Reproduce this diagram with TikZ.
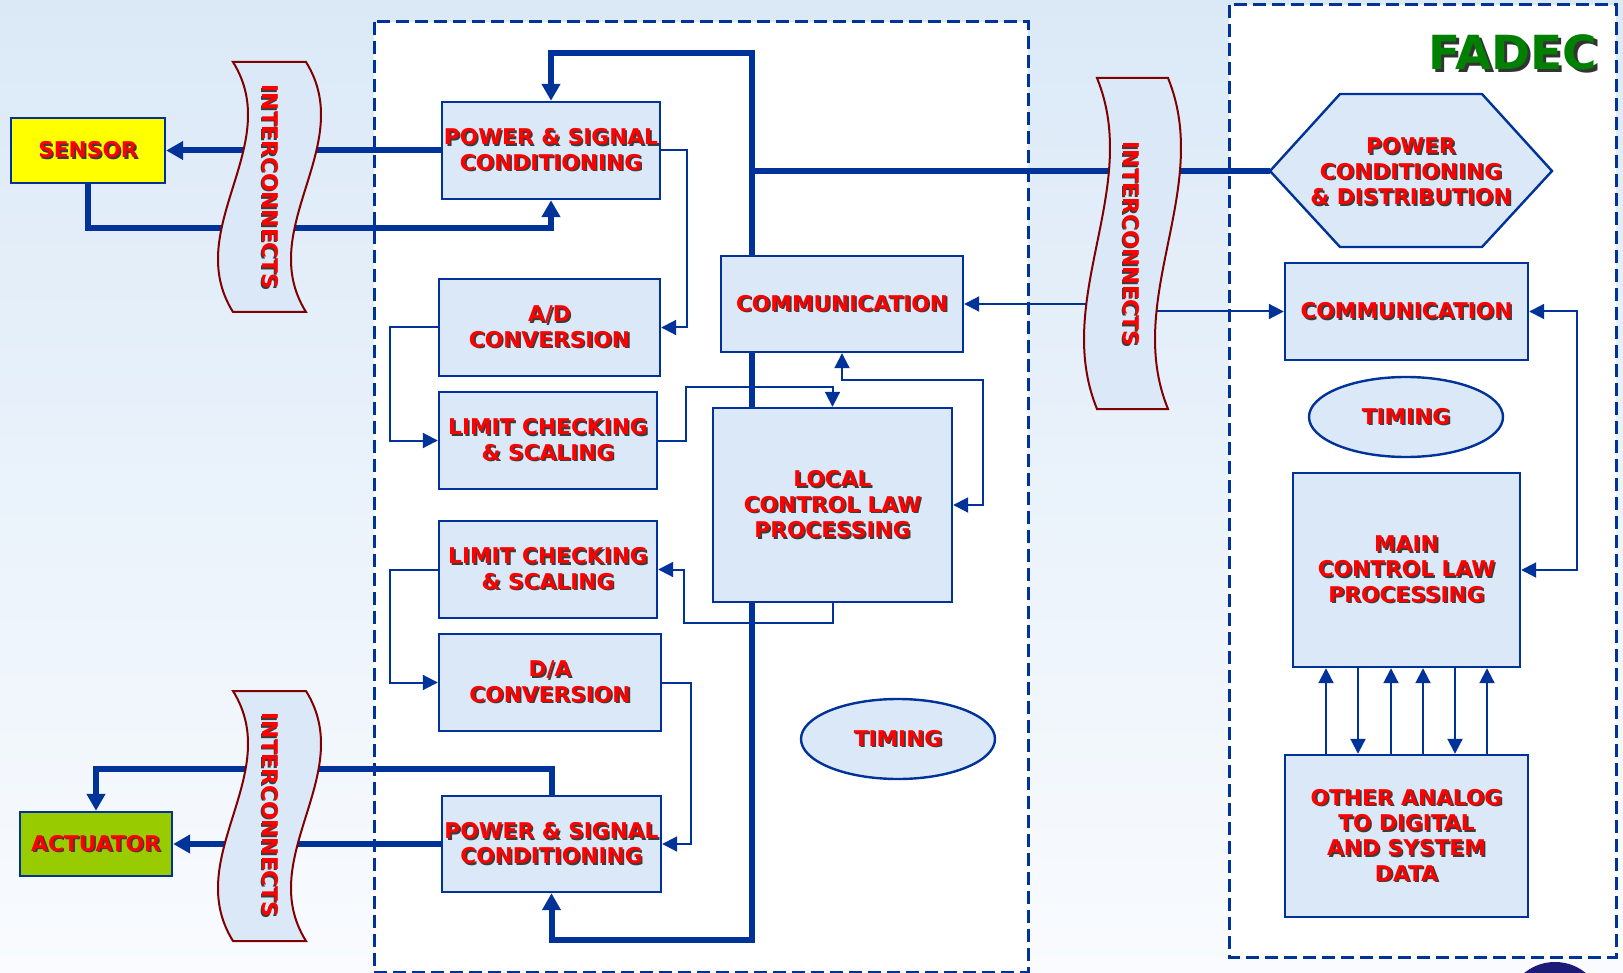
\documentclass[tikz,border=0pt]{standalone}
\usepackage{fontspec}
\setmainfont{DejaVu Sans}
\usetikzlibrary{arrows.meta,shapes.geometric}

\definecolor{linec}{RGB}{0,51,153}
\definecolor{boxfill}{RGB}{219,232,247}
\definecolor{txtred}{RGB}{255,0,0}
\definecolor{ribbonc}{RGB}{128,0,0}
\definecolor{bgtop}{RGB}{219,233,247}
\definecolor{bgbot}{RGB}{249,251,254}
\definecolor{fadecg}{RGB}{0,128,0}
\definecolor{shadowc}{RGB}{60,60,60}
\definecolor{sensorc}{RGB}{255,255,0}
\definecolor{actc}{RGB}{153,204,0}
\definecolor{blobc}{RGB}{28,28,120}

% text with a small drop shadow
\newcommand\shd[1]{\leavevmode\rlap{\kern0.8pt\raisebox{-0.8pt}{\textcolor{shadowc}{#1}}}#1}
\newcommand\shdbig[1]{\leavevmode\rlap{\kern1.6pt\raisebox{-1.6pt}{\textcolor{black!80}{#1}}}#1}

\pgfdeclarelayer{bg}
\pgfdeclarelayer{wires}
\pgfsetlayers{bg,wires,main}

\tikzset{
  lbl/.style={font=\fontsize{10.85}{12.7}\selectfont\bfseries, text=txtred, align=center, inner sep=0pt},
  blk/.style={lbl, draw=linec, line width=1.2pt, fill=boxfill},
  oval/.style={blk, ellipse, minimum width=97pt, minimum height=40pt},
  hexs/.style={draw=linec, line width=1.2pt, fill=boxfill, line join=miter},
  ribbon/.style={draw=ribbonc, line width=1pt, fill=boxfill},
  rtxt/.style={lbl, rotate=-90},
  panel/.style={draw=linec, line width=1.5pt, dash pattern=on 6.5pt off 3pt, fill=white},
  bus/.style={draw=linec, line width=3pt},
  wire/.style={draw=linec, line width=1pt},
  arr/.style={-{Triangle[length=7.5pt,width=7.5pt]}},
  darr/.style={{Triangle[length=7.5pt,width=7.5pt]}-{Triangle[length=7.5pt,width=7.5pt]}},
  barr/.style={-{Triangle[length=8.5pt,width=9pt]}},
  bdarr/.style={{Triangle[length=8.5pt,width=9pt]}-{Triangle[length=8.5pt,width=9pt]}},
}

\begin{document}
\begin{tikzpicture}[x=0.5pt,y=-0.5pt]
\useasboundingbox (0,0) rectangle (1623,973);

% backdrop and the two dashed panels
\begin{pgfonlayer}{bg}
  \shade[top color=bgtop, bottom color=bgbot] (0,0) rectangle (1623,973);
  \draw[panel] (374,22) rectangle (1028,972);
  \draw[panel] (1229,5) rectangle (1616,957);
  \begin{scope}
    \clip (0,0) rectangle (1623,973);
    \fill[blobc] (1555,1005) ellipse [x radius=23pt, y radius=21.5pt];
  \end{scope}
\end{pgfonlayer}

% title
\node[font=\fontsize{23.5}{28}\selectfont\bfseries, text=fadecg, inner sep=0pt] (title) at (1513,54) {\shdbig{FADEC}};

% external devices
\node[blk, fill=sensorc, minimum width=77pt, minimum height=32.5pt] (sensor) at (88,150.5) {\shd{SENSOR}};
\node[blk, fill=actc, minimum width=76pt, minimum height=32pt] (act) at (96,844) {\shd{ACTUATOR}};

% local unit
\node[blk, minimum width=109pt, minimum height=48.5pt] (psc1) at (551,150.5) {\shd{POWER \& SIGNAL}\\\shd{CONDITIONING}};
\node[blk, minimum width=110.5pt, minimum height=48.5pt] (ad) at (549.5,327.5) {\shd{A/D}\\\shd{CONVERSION}};
\node[blk, minimum width=109pt, minimum height=48.5pt] (lc1) at (548,440.5) {\shd{LIMIT CHECKING}\\\shd{\& SCALING}};
\node[blk, minimum width=109pt, minimum height=48.5pt] (lc2) at (548,569.5) {\shd{LIMIT CHECKING}\\\shd{\& SCALING}};
\node[blk, minimum width=111pt, minimum height=48.5pt] (da) at (550,682.5) {\shd{D/A}\\\shd{CONVERSION}};
\node[blk, minimum width=109.5pt, minimum height=48pt] (psc2) at (551.5,844) {\shd{POWER \& SIGNAL}\\\shd{CONDITIONING}};
\node[blk, minimum width=121pt, minimum height=48pt] (comm) at (842,304) {\shd{COMMUNICATION}};
\node[blk, minimum width=119.5pt, minimum height=97pt] (local) at (832.5,505) {\shd{LOCAL}\\\shd{CONTROL LAW}\\\shd{PROCESSING}};
\node[oval] (tim1) at (898,739) {\shd{TIMING}};

% FADEC unit
\draw[hexs] (1270,171) -- (1340,94) -- (1482,94) -- (1552,171) -- (1482,247) -- (1340,247) -- cycle;
\coordinate (hexW) at (1270,171);
\node[lbl] (hex) at (1411,172) {\shd{POWER}\\\shd{CONDITIONING}\\\shd{\& DISTRIBUTION}};
\node[blk, minimum width=121.5pt, minimum height=48.5pt] (commR) at (1406.5,311.5) {\shd{COMMUNICATION}};
\node[oval] (tim2) at (1406,417) {\shd{TIMING}};
\node[blk, minimum width=113.5pt, minimum height=97pt] (main) at (1406.5,570) {\shd{MAIN}\\\shd{CONTROL LAW}\\\shd{PROCESSING}};
\node[blk, minimum width=121.5pt, minimum height=81pt] (other) at (1406.5,836) {\shd{OTHER ANALOG}\\\shd{TO DIGITAL}\\\shd{AND SYSTEM}\\\shd{DATA}};

% interconnect ribbons
\draw[ribbon] (233,62) -- (306,62) .. controls (358,145.3) and (254,228.7) .. (306,312) -- (233,312) .. controls (181,228.7) and (285,145.3) .. (233,62) -- cycle;
\node[rtxt] (ic1) at (270,187) {\shd{INTERCONNECTS}};
\draw[ribbon] (233,691) -- (306,691) .. controls (358,774.3) and (254,857.7) .. (306,941) -- (233,941) .. controls (181,857.7) and (285,774.3) .. (233,691) -- cycle;
\node[rtxt] (ic2) at (270,815) {\shd{INTERCONNECTS}};
\draw[ribbon] (1097,78) -- (1168,78) .. controls (1213,188.3) and (1123,298.7) .. (1168,409) -- (1097,409) .. controls (1052,298.7) and (1142,188.3) .. (1097,78) -- cycle;
\node[rtxt] (ic3) at (1131,244) {\shd{INTERCONNECTS}};

% connector corners
\coordinate (sJ) at (551,228);
\coordinate (aJ) at (96,769);
\coordinate (busT) at (752,53);
\coordinate (busB) at (752,940);
\coordinate (busJ) at (752,171);
\coordinate (cJ) at (832.5,387);
\coordinate (dJ) at (983,380);
\coordinate (eJ) at (684,623);
\coordinate (icA) at (1100,304);
\coordinate (icB) at (1150,311.5);

\begin{pgfonlayer}{wires}
  % power and signal paths
  \draw[bus,barr] (psc1.west) -- (sensor.east);
  \draw[bus,barr] (sensor.south) |- (sJ) -- (psc1.south);
  \draw[bus,bdarr] (psc1.north) |- (busT) -- (busB) -| (psc2.south);
  \draw[bus] (hexW) -- (busJ);
  \draw[bus,barr] (psc2.west) -- (act.east);
  \draw[bus,barr] (psc2.north) |- (aJ) -- (act.north);

  % local data flow
  \draw[wire,arr] (psc1.east) -- ++(26,0) |- (ad.east);
  \draw[wire,arr] (ad.west) -- ++(-48,0) |- (lc1.west);
  \draw[wire,arr] (lc1.east) -- ++(28,0) |- (cJ) -- (local.north);
  \draw[wire,darr] (comm.south) |- (dJ) |- (local.east);
  \draw[wire,arr] (local.south) |- (eJ) |- (lc2.east);
  \draw[wire,arr] (lc2.west) -- ++(-48,0) |- (da.west);
  \draw[wire,arr] (da.east) -- ++(29,0) |- (psc2.east);

  % link between the units
  \draw[wire,arr] (icA) -- (comm.east);
  \draw[wire,arr] (icB) -- (commR.west);
  \draw[wire,darr] (commR.east) -- ++(48,0) |- (main.east);

  % main processor data lines
  \foreach \x in {1326,1391,1423,1487}{
    \coordinate (k) at (\x,0);
    \draw[wire,arr] (k |- other.north) -- (k |- main.south);
  }
  \foreach \x in {1358,1455}{
    \coordinate (k) at (\x,0);
    \draw[wire,arr] (k |- main.south) -- (k |- other.north);
  }
\end{pgfonlayer}
\end{tikzpicture}
\end{document}
